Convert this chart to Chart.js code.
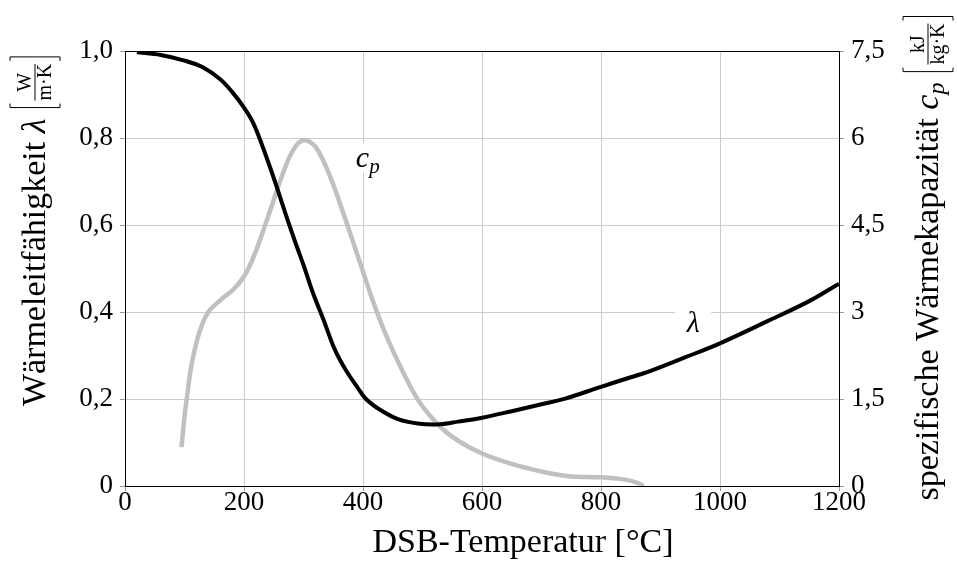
<!DOCTYPE html>
<html>
<head>
<meta charset="utf-8">
<script src="https://cdn.jsdelivr.net/npm/chart.js@4.4.1/dist/chart.umd.min.js"></script>
<style>
  html, body { margin: 0; padding: 0; background: #fff; }
  #chart { display: block; }
</style>
</head>
<body>
<canvas id="chart" width="957" height="567"></canvas>
<script>
// DSB temperature for the thermal conductivity curve and the values read from it
const tempLambda = [20, 60, 100, 130, 160, 180, 200, 215, 230, 250, 270, 285, 300, 315, 335, 350, 362, 375, 390, 405, 430, 460, 495, 530, 560, 600, 650, 700, 740, 800, 850, 880, 940, 1000, 1080, 1150, 1200];
const lambdaValues = [0.997, 0.991, 0.978, 0.963, 0.935, 0.906, 0.870, 0.836, 0.785, 0.708, 0.625, 0.565, 0.508, 0.447, 0.377, 0.322, 0.288, 0.258, 0.228, 0.200, 0.174, 0.153, 0.143, 0.142, 0.148, 0.157, 0.172, 0.188, 0.201, 0.228, 0.250, 0.263, 0.295, 0.328, 0.379, 0.425, 0.465];

// DSB temperature for the specific heat capacity curve
const tempCp = [95, 100, 105, 112, 125, 140, 160, 180, 192, 205, 220, 245, 265, 283, 300, 320, 345, 372, 395, 418, 440, 468, 496, 530, 560, 600, 650, 700, 745, 800, 840, 860, 872];
const cpValues = [0.67, 1.2, 1.6, 2.1, 2.65, 3.0, 3.2, 3.37, 3.5, 3.7, 4.05, 4.78, 5.38, 5.8, 5.96, 5.85, 5.33, 4.55, 3.85, 3.15, 2.57, 1.95, 1.43, 1.02, 0.78, 0.56, 0.38, 0.25, 0.17, 0.15, 0.11, 0.06, 0.0];

const tempTicks = [0, 200, 400, 600, 800, 1000, 1200];
const lambdaTicks = [0, 0.2, 0.4, 0.6, 0.8, 1.0];
const lambdaTickLabels = ['0', '0,2', '0,4', '0,6', '0,8', '1,0'];
const cpTicks = [0, 1.5, 3, 4.5, 6, 7.5];
const cpTickLabels = ['0', '1,5', '3', '4,5', '6', '7,5'];

const SERIF = '"Liberation Serif", "Times New Roman", serif';
const tickFont = { family: SERIF, size: 27 };

// draws a run of text pieces, fractions in brackets included, centred on the origin
function drawParts(ctx, parts) {
  const widths = parts.map((p) => {
    if (p.frac) {
      ctx.font = `${p.size}px ${SERIF}`;
      const w = Math.max(ctx.measureText(p.frac[0]).width, ctx.measureText(p.frac[1]).width);
      return w + 16;
    }
    ctx.font = p.font;
    return ctx.measureText(p.text).width + (p.gap || 0);
  });
  const total = widths.reduce((s, w) => s + w, 0);
  let x = -total / 2;
  ctx.fillStyle = '#000';
  ctx.strokeStyle = '#000';
  ctx.textBaseline = 'alphabetic';
  parts.forEach((p, i) => {
    if (p.frac) {
      const w = widths[i] - 16;
      const mid = -10;
      const h = 25;
      ctx.lineWidth = 1;
      ctx.beginPath();
      ctx.moveTo(x + 5, mid - h); ctx.lineTo(x + 1, mid - h); ctx.lineTo(x + 1, mid + h); ctx.lineTo(x + 5, mid + h);
      const rx = x + w + 15;
      ctx.moveTo(rx - 4, mid - h); ctx.lineTo(rx, mid - h); ctx.lineTo(rx, mid + h); ctx.lineTo(rx - 4, mid + h);
      ctx.moveTo(x + 8, mid); ctx.lineTo(x + 8 + w, mid);
      ctx.stroke();
      ctx.font = `${p.size}px ${SERIF}`;
      ctx.textAlign = 'center';
      ctx.fillText(p.frac[0], x + 8 + w / 2, mid - 4);
      ctx.fillText(p.frac[1], x + 8 + w / 2, mid + 2 + p.size * 0.68);
      ctx.textAlign = 'left';
    } else {
      ctx.font = p.font;
      ctx.textAlign = 'left';
      ctx.fillText(p.text, x, p.dy || 0);
    }
    x += widths[i];
  });
}

const titlesPlugin = {
  id: 'titles',
  beforeDatasetsDraw(chart) {
    const { ctx } = chart;
    const xs = chart.scales.x;
    const yl = chart.scales.yLambda;
    const yc = chart.scales.yCp;
    ctx.save();
    // curve labels with white background over the grid
    const labels = [
      { x: xs.getPixelForValue(408), y: yc.getPixelForValue(5.65), parts: [{ text: 'c', font: `italic 30px ${SERIF}` }, { text: 'p', font: `italic 21px ${SERIF}`, dy: 6 }] },
      { x: xs.getPixelForValue(955), y: yl.getPixelForValue(0.375), parts: [{ text: 'λ', font: `italic 30px ${SERIF}` }] },
    ];
    labels.forEach((l) => {
      ctx.fillStyle = '#fff';
      ctx.fillRect(l.x - 18, l.y - 14, 36, 28);
      ctx.save();
      ctx.translate(l.x, l.y + 9);
      drawParts(ctx, l.parts);
      ctx.restore();
    });
    ctx.restore();
  },
  afterDraw(chart) {
    const { ctx, chartArea } = chart;
    ctx.save();
    // frame top line
    ctx.strokeStyle = '#000';
    ctx.lineWidth = 1;
    ctx.beginPath();
    ctx.moveTo(chartArea.left, chartArea.top + 0.5);
    ctx.lineTo(chartArea.right, chartArea.top + 0.5);
    ctx.stroke();

    // x axis title
    ctx.save();
    ctx.translate(523, 552);
    drawParts(ctx, [{ text: 'DSB-Temperatur [°C]', font: `34px ${SERIF}` }]);
    ctx.restore();

    // left axis title
    ctx.save();
    ctx.translate(45, 231);
    ctx.rotate(-Math.PI / 2);
    drawParts(ctx, [
      { text: 'Wärmeleitfähigkeit ', font: `34px ${SERIF}` },
      { text: 'λ', font: `italic 34px ${SERIF}`, gap: 10 },
      { frac: ['W', 'm·K'], size: 20 },
    ]);
    ctx.restore();

    // right axis title
    ctx.save();
    ctx.translate(938, 258);
    ctx.rotate(-Math.PI / 2);
    drawParts(ctx, [
      { text: 'spezifische Wärmekapazität ', font: `34px ${SERIF}` },
      { text: 'c', font: `italic 34px ${SERIF}` },
      { text: 'p', font: `italic 24px ${SERIF}`, dy: 6, gap: 10 },
      { frac: ['kJ', 'kg·K'], size: 20 },
    ]);
    ctx.restore();
    ctx.restore();
  },
};

const gridColor = '#cccccc';

new Chart(document.getElementById('chart'), {
  type: 'line',
  data: {
    datasets: [
      {
        label: 'λ',
        data: tempLambda.map((t, i) => ({ x: t, y: lambdaValues[i] })),
        yAxisID: 'yLambda',
        borderColor: '#000',
        borderWidth: 4,
        pointRadius: 0,
        tension: 0.35,
        fill: false,
      },
      {
        label: 'cp',
        data: tempCp.map((t, i) => ({ x: t, y: cpValues[i] })),
        yAxisID: 'yCp',
        borderColor: '#c0c0c0',
        borderWidth: 4.5,
        pointRadius: 0,
        tension: 0.35,
        fill: false,
      },
    ],
  },
  options: {
    responsive: false,
    animation: false,
    layout: { padding: { top: 51, left: 0, right: 0, bottom: 0 } },
    plugins: { legend: { display: false }, tooltip: { enabled: false } },
    scales: {
      x: {
        type: 'linear',
        min: 0,
        max: 1200,
        afterBuildTicks: (axis) => { axis.ticks = tempTicks.map((v) => ({ value: v })); },
        afterFit: (axis) => { axis.height = 81; },
        ticks: { color: '#000', font: tickFont, padding: -4, maxRotation: 0, callback: (v, i) => String(tempTicks[i]) },
        grid: { color: gridColor, tickLength: 5, tickColor: '#999' },
        border: { color: '#000', width: 1 },
      },
      yLambda: {
        type: 'linear',
        position: 'left',
        min: 0,
        max: 1,
        afterBuildTicks: (axis) => { axis.ticks = lambdaTicks.map((v) => ({ value: v })); },
        afterFit: (axis) => { axis.width = 125; },
        ticks: { color: '#000', font: tickFont, padding: 7, callback: (v, i) => lambdaTickLabels[i] },
        grid: { color: gridColor, tickLength: 5, tickColor: '#999' },
        border: { color: '#000', width: 1 },
      },
      yCp: {
        type: 'linear',
        position: 'right',
        min: 0,
        max: 7.5,
        afterBuildTicks: (axis) => { axis.ticks = cpTicks.map((v) => ({ value: v })); },
        afterFit: (axis) => { axis.width = 118; },
        ticks: { color: '#000', font: tickFont, padding: 7, callback: (v, i) => cpTickLabels[i] },
        grid: { drawOnChartArea: false, tickLength: 5, tickColor: '#999' },
        border: { color: '#000', width: 1 },
      },
    },
  },
  plugins: [titlesPlugin],
});
</script>
</body>
</html>
